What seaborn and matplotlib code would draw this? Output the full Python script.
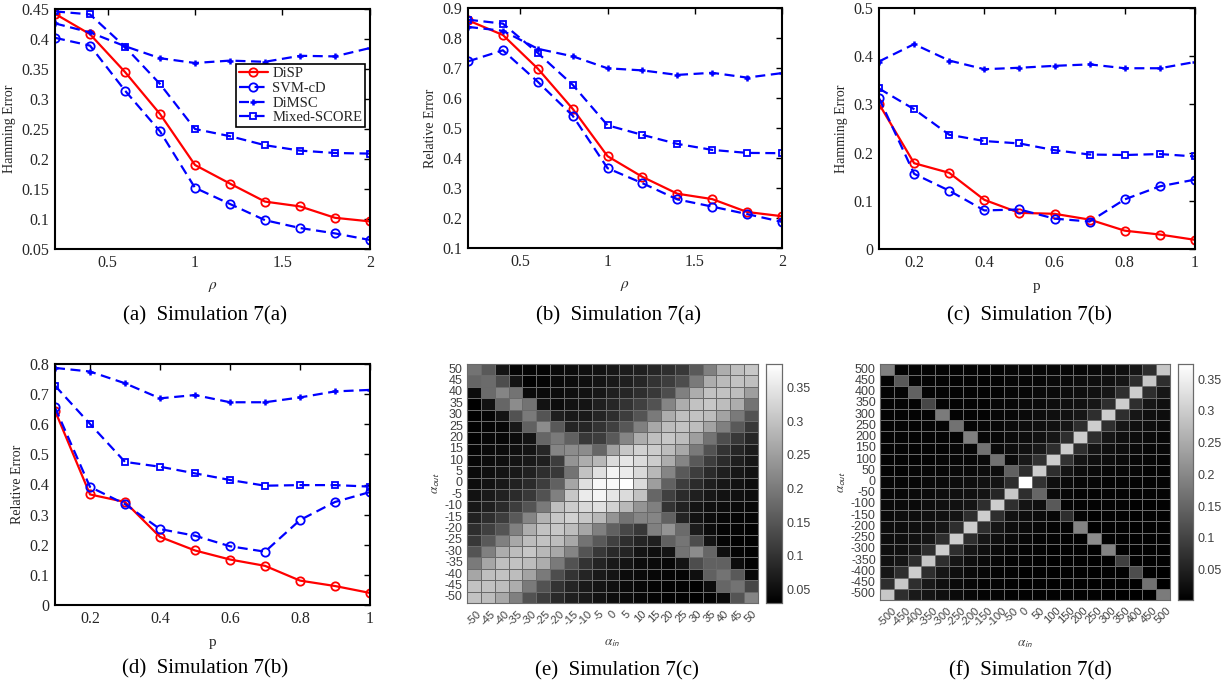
import numpy as np
import pandas as pd
import matplotlib
matplotlib.use("Agg")
import matplotlib.pyplot as plt
import seaborn as sns

W, H = 1223, 686

METHODS = ["DiSP", "SVM-cD", "DiMSC", "Mixed-SCORE"]

# Simulation 7(a): x = rho
RHO = [0.2, 0.4, 0.6, 0.8, 1.0, 1.2, 1.4, 1.6, 1.8, 2.0]
HAM_A = {
    "DiSP":        [0.442, 0.408, 0.345, 0.275, 0.190, 0.159, 0.129, 0.121, 0.102, 0.096],
    "SVM-cD":      [0.402, 0.389, 0.314, 0.246, 0.152, 0.125, 0.098, 0.085, 0.076, 0.065],
    "DiMSC":       [0.426, 0.411, 0.388, 0.368, 0.360, 0.364, 0.362, 0.372, 0.371, 0.385],
    "Mixed-SCORE": [0.446, 0.441, 0.387, 0.325, 0.250, 0.238, 0.223, 0.214, 0.210, 0.209],
}
REL_A = {
    "DiSP":        [0.859, 0.810, 0.698, 0.564, 0.406, 0.337, 0.281, 0.263, 0.220, 0.206],
    "SVM-cD":      [0.722, 0.759, 0.654, 0.541, 0.366, 0.316, 0.262, 0.238, 0.213, 0.187],
    "DiMSC":       [0.837, 0.824, 0.764, 0.739, 0.699, 0.692, 0.677, 0.684, 0.668, 0.683],
    "Mixed-SCORE": [0.861, 0.848, 0.750, 0.644, 0.509, 0.477, 0.447, 0.427, 0.417, 0.416],
}

# Simulation 7(b): x = p
P = [0.1, 0.2, 0.3, 0.4, 0.5, 0.6, 0.7, 0.8, 0.9, 1.0]
HAM_B = {
    "DiSP":        [0.301, 0.178, 0.158, 0.102, 0.075, 0.073, 0.061, 0.038, 0.030, 0.019],
    "SVM-cD":      [0.313, 0.156, 0.121, 0.080, 0.082, 0.063, 0.057, 0.103, 0.130, 0.144],
    "DiMSC":       [0.389, 0.425, 0.391, 0.373, 0.376, 0.380, 0.383, 0.375, 0.375, 0.388],
    "Mixed-SCORE": [0.333, 0.290, 0.237, 0.224, 0.219, 0.205, 0.196, 0.195, 0.197, 0.192],
}
REL_B = {
    "DiSP":        [0.645, 0.367, 0.342, 0.226, 0.181, 0.151, 0.130, 0.081, 0.063, 0.040],
    "SVM-cD":      [0.656, 0.392, 0.335, 0.252, 0.230, 0.195, 0.177, 0.282, 0.342, 0.375],
    "DiMSC":       [0.787, 0.775, 0.736, 0.686, 0.697, 0.673, 0.673, 0.689, 0.709, 0.714],
    "Mixed-SCORE": [0.728, 0.601, 0.475, 0.459, 0.437, 0.415, 0.396, 0.398, 0.398, 0.393],
}

# Simulation 7(c): hamming error over (alpha_in, alpha_out), rows top = 50
ALPHA_C = [-50, -45, -40, -35, -30, -25, -20, -15, -10, -5, 0, 5, 10, 15, 20, 25, 30, 35, 40, 45, 50]
GRID_C = [
    [0.190,0.154,0.058,0.037,0.037,0.037,0.044,0.048,0.051,0.055,0.062,0.069,0.073,0.083,0.094,0.108,0.154,0.208,0.271,0.296,0.307],
    [0.172,0.179,0.137,0.058,0.034,0.037,0.044,0.048,0.051,0.058,0.066,0.073,0.083,0.101,0.115,0.137,0.200,0.271,0.289,0.300,0.296],
    [0.048,0.179,0.215,0.190,0.044,0.044,0.048,0.051,0.055,0.062,0.073,0.083,0.094,0.108,0.137,0.208,0.271,0.300,0.300,0.293,0.250],
    [0.030,0.055,0.172,0.225,0.190,0.055,0.048,0.055,0.058,0.073,0.083,0.101,0.119,0.144,0.215,0.271,0.300,0.307,0.293,0.271,0.190],
    [0.030,0.037,0.058,0.144,0.200,0.147,0.073,0.066,0.066,0.080,0.094,0.115,0.147,0.200,0.271,0.296,0.300,0.293,0.257,0.200,0.144],
    [0.034,0.037,0.041,0.066,0.165,0.225,0.154,0.080,0.083,0.101,0.119,0.151,0.208,0.264,0.293,0.300,0.293,0.257,0.208,0.154,0.108],
    [0.034,0.041,0.041,0.048,0.058,0.172,0.200,0.165,0.108,0.115,0.154,0.215,0.271,0.296,0.307,0.293,0.250,0.190,0.137,0.108,0.083],
    [0.037,0.044,0.048,0.051,0.058,0.083,0.215,0.225,0.225,0.172,0.254,0.307,0.321,0.314,0.293,0.264,0.200,0.144,0.101,0.083,0.069],
    [0.041,0.048,0.051,0.058,0.066,0.073,0.115,0.236,0.271,0.286,0.335,0.350,0.335,0.314,0.271,0.215,0.154,0.115,0.090,0.073,0.062],
    [0.044,0.051,0.058,0.066,0.076,0.094,0.108,0.190,0.300,0.342,0.367,0.357,0.332,0.286,0.215,0.154,0.115,0.090,0.073,0.062,0.055],
    [0.048,0.055,0.066,0.076,0.090,0.115,0.165,0.261,0.342,0.374,0.378,0.385,0.335,0.250,0.165,0.115,0.090,0.073,0.062,0.055,0.048],
    [0.055,0.066,0.076,0.090,0.108,0.144,0.208,0.307,0.357,0.371,0.350,0.335,0.300,0.172,0.119,0.090,0.073,0.062,0.055,0.051,0.048],
    [0.062,0.073,0.090,0.115,0.147,0.200,0.296,0.314,0.332,0.342,0.321,0.286,0.236,0.208,0.101,0.076,0.058,0.051,0.048,0.044,0.041],
    [0.076,0.094,0.115,0.154,0.215,0.279,0.307,0.321,0.307,0.286,0.236,0.190,0.215,0.215,0.165,0.080,0.055,0.048,0.041,0.037,0.037],
    [0.094,0.119,0.147,0.208,0.271,0.300,0.307,0.293,0.261,0.208,0.165,0.129,0.108,0.208,0.236,0.179,0.069,0.048,0.037,0.037,0.034],
    [0.108,0.154,0.208,0.264,0.293,0.300,0.293,0.264,0.190,0.154,0.119,0.094,0.080,0.073,0.165,0.193,0.137,0.058,0.037,0.034,0.034],
    [0.147,0.208,0.271,0.293,0.307,0.286,0.264,0.215,0.147,0.108,0.087,0.080,0.058,0.051,0.058,0.190,0.225,0.172,0.051,0.037,0.034],
    [0.200,0.261,0.296,0.300,0.293,0.271,0.200,0.144,0.101,0.080,0.066,0.058,0.048,0.044,0.041,0.058,0.137,0.165,0.165,0.048,0.034],
    [0.261,0.296,0.300,0.293,0.257,0.200,0.137,0.101,0.080,0.066,0.058,0.048,0.044,0.041,0.037,0.037,0.051,0.165,0.190,0.154,0.041],
    [0.300,0.300,0.293,0.271,0.200,0.144,0.101,0.080,0.066,0.058,0.051,0.044,0.041,0.037,0.034,0.034,0.034,0.048,0.172,0.190,0.129],
    [0.300,0.293,0.264,0.208,0.144,0.115,0.087,0.073,0.066,0.055,0.048,0.044,0.041,0.037,0.034,0.034,0.030,0.034,0.044,0.147,0.215],
]

# Simulation 7(d): rows top = 500
ALPHA_D = [-500, -450, -400, -350, -300, -250, -200, -150, -100, -50, 0, 50, 100, 150, 200, 250, 300, 350, 400, 450, 500]
GRID_D = [
    [0.188,0.009,0.009,0.009,0.009,0.009,0.009,0.009,0.009,0.013,0.013,0.013,0.013,0.013,0.013,0.017,0.021,0.024,0.035,0.069,0.292],
    [0.009,0.132,0.009,0.009,0.009,0.009,0.009,0.009,0.009,0.013,0.013,0.013,0.017,0.017,0.021,0.024,0.028,0.035,0.069,0.292,0.069],
    [0.009,0.009,0.143,0.009,0.009,0.009,0.009,0.009,0.009,0.013,0.013,0.017,0.017,0.021,0.024,0.028,0.035,0.069,0.300,0.069,0.035],
    [0.009,0.009,0.009,0.106,0.009,0.009,0.009,0.009,0.013,0.013,0.017,0.017,0.021,0.024,0.028,0.035,0.069,0.300,0.069,0.035,0.024],
    [0.009,0.009,0.009,0.009,0.181,0.009,0.009,0.009,0.013,0.013,0.017,0.021,0.024,0.028,0.035,0.069,0.300,0.069,0.035,0.024,0.021],
    [0.009,0.009,0.009,0.009,0.009,0.169,0.009,0.013,0.013,0.017,0.021,0.024,0.028,0.035,0.069,0.300,0.069,0.035,0.024,0.021,0.017],
    [0.009,0.009,0.009,0.009,0.009,0.009,0.188,0.013,0.013,0.017,0.021,0.028,0.035,0.069,0.300,0.069,0.035,0.024,0.021,0.017,0.013],
    [0.009,0.009,0.009,0.009,0.009,0.013,0.013,0.169,0.017,0.021,0.028,0.039,0.069,0.300,0.069,0.032,0.024,0.021,0.017,0.013,0.013],
    [0.009,0.009,0.009,0.009,0.013,0.013,0.013,0.017,0.169,0.017,0.039,0.076,0.300,0.076,0.032,0.024,0.021,0.017,0.013,0.013,0.009],
    [0.009,0.009,0.013,0.013,0.013,0.017,0.017,0.021,0.021,0.143,0.069,0.300,0.069,0.032,0.021,0.017,0.013,0.013,0.013,0.009,0.009],
    [0.013,0.013,0.013,0.017,0.017,0.021,0.024,0.028,0.032,0.069,0.374,0.076,0.024,0.017,0.013,0.013,0.009,0.009,0.009,0.009,0.009],
    [0.013,0.013,0.017,0.017,0.021,0.024,0.028,0.032,0.058,0.292,0.069,0.151,0.017,0.013,0.009,0.009,0.009,0.009,0.009,0.009,0.009],
    [0.017,0.017,0.017,0.021,0.024,0.028,0.032,0.069,0.300,0.069,0.032,0.024,0.132,0.009,0.009,0.009,0.009,0.009,0.006,0.006,0.006],
    [0.017,0.021,0.021,0.024,0.028,0.032,0.069,0.300,0.069,0.028,0.021,0.017,0.013,0.069,0.009,0.006,0.006,0.006,0.006,0.006,0.006],
    [0.021,0.021,0.024,0.028,0.035,0.069,0.300,0.069,0.035,0.021,0.017,0.013,0.009,0.009,0.195,0.006,0.006,0.006,0.006,0.006,0.006],
    [0.021,0.024,0.028,0.035,0.069,0.300,0.069,0.035,0.024,0.017,0.013,0.009,0.009,0.006,0.006,0.207,0.006,0.006,0.006,0.006,0.006],
    [0.024,0.028,0.035,0.069,0.300,0.069,0.035,0.024,0.017,0.013,0.009,0.009,0.006,0.006,0.006,0.006,0.195,0.006,0.006,0.006,0.006],
    [0.028,0.035,0.069,0.292,0.069,0.035,0.024,0.017,0.013,0.009,0.009,0.006,0.006,0.006,0.006,0.006,0.006,0.095,0.006,0.006,0.006],
    [0.035,0.069,0.300,0.069,0.035,0.024,0.017,0.013,0.009,0.009,0.006,0.006,0.006,0.006,0.006,0.006,0.006,0.006,0.114,0.006,0.002],
    [0.069,0.292,0.069,0.039,0.024,0.017,0.013,0.009,0.009,0.006,0.006,0.006,0.006,0.006,0.006,0.006,0.006,0.006,0.006,0.169,0.002],
    [0.292,0.069,0.039,0.032,0.024,0.017,0.013,0.009,0.009,0.006,0.006,0.006,0.006,0.006,0.006,0.006,0.002,0.002,0.002,0.002,0.181],
]

CAPTIONS = [
    "(a)  Simulation 7(a)", "(b)  Simulation 7(a)", "(c)  Simulation 7(b)",
    "(d)  Simulation 7(b)", "(e)  Simulation 7(c)", "(f)  Simulation 7(d)",
]

STYLE = {
    "DiSP":        dict(color="#ff0000", linestyle="-", marker="o", markersize=6, markeredgewidth=1.3),
    "SVM-cD":      dict(color="#0000ff", linestyle=(0, (4.5, 2.5)), marker="o", markersize=6, markeredgewidth=1.3),
    "DiMSC":       dict(color="#0000ff", linestyle=(0, (4.5, 2.5)), marker="+", markersize=5, markeredgewidth=1.8),
    "Mixed-SCORE": dict(color="#0000ff", linestyle=(0, (4.5, 2.5)), marker="s", markersize=5, markeredgewidth=1.3),
}

sns.set_theme(style="white")
plt.rcParams["font.family"] = ["Liberation Serif", "DejaVu Serif"]
plt.rcParams["mathtext.fontset"] = "stix"

fig = plt.figure(figsize=(W / 100, H / 100), dpi=100)


def px_axes(l, t, r, b):
    return fig.add_axes([l / W, 1 - b / H, (r - l) / W, (b - t) / H])


def fmt(v):
    return f"{v:g}"


def line_panel(ax, x, data, ylim, ystep, xticks, xlabel, ylabel, legend=False):
    for name in METHODS:
        st = STYLE[name]
        sns.lineplot(x=x, y=data[name], ax=ax, linewidth=1.6, label=name, legend=False,
                     markerfacecolor="none", markeredgecolor=st["color"], **st)
    ax.set_xlim(x[0], x[-1])
    ax.set_ylim(*ylim)
    yt = np.round(np.arange(ylim[0], ylim[1] + 1e-9, ystep), 3)
    ax.set_yticks(yt)
    ax.set_yticklabels([fmt(v) for v in yt])
    ax.set_xticks(xticks)
    ax.set_xticklabels([fmt(v) for v in xticks])
    ax.tick_params(direction="in", top=True, right=True, length=4, width=1,
                   color="black", labelcolor="#262626", labelsize=11.5, pad=4)
    for sp in ax.spines.values():
        sp.set_color("black")
        sp.set_linewidth(1.5)
    ax.set_xlabel(xlabel, fontsize=11, color="#262626", labelpad=7)
    ax.set_ylabel(ylabel, fontsize=10, color="#262626", labelpad=4)
    if legend:
        leg = ax.legend(loc="upper right", bbox_to_anchor=(0.985, 0.77), fontsize=10.5,
                        frameon=True, fancybox=False, framealpha=1, edgecolor="black",
                        handlelength=2.0, handletextpad=0.3, labelspacing=0.1,
                        borderpad=0.2, borderaxespad=0)
        leg.get_frame().set_linewidth(1.2)


def heat_panel(ax, cax, grid, labels, cticks, vlim):
    df = pd.DataFrame(grid, index=labels[::-1], columns=labels)
    sns.heatmap(df, ax=ax, cbar_ax=cax, cmap="gray", vmin=vlim[0], vmax=vlim[1],
                linewidths=0.6, linecolor="#6a6a6a", square=False,
                xticklabels=1, yticklabels=1)
    ax.tick_params(axis="y", length=0, labelsize=9, labelcolor="#404040", pad=3)
    ax.tick_params(axis="x", length=0, labelsize=8, labelcolor="#404040", pad=4)
    ax.set_xticklabels([str(v) for v in labels], rotation=45, ha="center",
                       va="top", family="Liberation Sans")
    ax.set_yticklabels([str(v) for v in labels[::-1]], rotation=0, family="Liberation Sans")
    for sp in ax.spines.values():
        sp.set_visible(True)
        sp.set_color("#6a6a6a")
        sp.set_linewidth(0.8)
    ax.set_xlabel(r"$\alpha_{\mathsf{in}}$", fontsize=9.5, color="#404040", labelpad=7)
    ax.set_ylabel(r"$\alpha_{\mathsf{out}}$", fontsize=9.5, color="#404040", labelpad=2)
    cax.set_yticks(cticks)
    cax.set_yticklabels([fmt(v) for v in cticks], family="Liberation Sans")
    cax.tick_params(labelsize=9, labelcolor="#404040", length=3, width=0.6,
                    direction="in", color="#404040", right=True)
    for sp in cax.spines.values():
        sp.set_visible(True)
        sp.set_color("#6a6a6a")
        sp.set_linewidth(0.8)


ax_a = px_axes(55, 9, 370, 249)
ax_b = px_axes(468, 8, 782, 248)
ax_c = px_axes(879, 8, 1195, 249)
ax_d = px_axes(55, 364, 370, 605)

line_panel(ax_a, RHO, HAM_A, (0.05, 0.45), 0.05, [0.5, 1, 1.5, 2], r"$\rho$", "Hamming Error", legend=True)
line_panel(ax_b, RHO, REL_A, (0.1, 0.9), 0.1, [0.5, 1, 1.5, 2], r"$\rho$", "Relative Error")
line_panel(ax_c, P, HAM_B, (0.0, 0.5), 0.1, [0.2, 0.4, 0.6, 0.8, 1], "p", "Hamming Error")
line_panel(ax_d, P, REL_B, (0.0, 0.8), 0.1, [0.2, 0.4, 0.6, 0.8, 1], "p", "Relative Error")

ax_e = px_axes(467, 364, 758, 603)
cax_e = px_axes(766, 364, 782, 603)
heat_panel(ax_e, cax_e, GRID_C, ALPHA_C, [0.05, 0.1, 0.15, 0.2, 0.25, 0.3, 0.35], (0.030, 0.385))

ax_f = px_axes(880, 364, 1170, 600)
cax_f = px_axes(1178, 364, 1193, 600)
heat_panel(ax_f, cax_f, GRID_D, ALPHA_D, [0.05, 0.1, 0.15, 0.2, 0.25, 0.3, 0.35], (0.002, 0.374))

for (cx, cy), text in zip([(205, 316), (619, 316), (1029, 316), (205, 669), (617, 671), (1030, 671)], CAPTIONS):
    fig.text(cx / W, 1 - cy / H, text, ha="center", va="center", fontsize=15, color="black")

fig.savefig("out.png", dpi=100, facecolor="white")
